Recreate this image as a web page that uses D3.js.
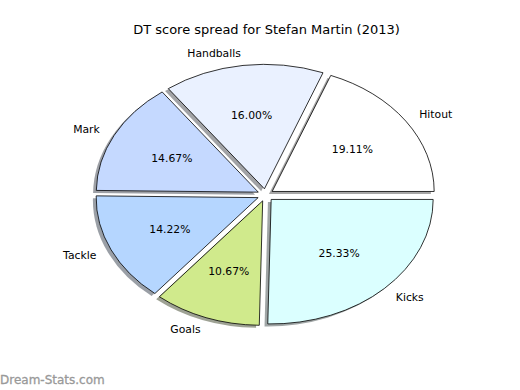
<!DOCTYPE html>
<html>
<head>
<meta charset="utf-8">
<script src="https://cdn.jsdelivr.net/npm/d3@7"></script>
<style>
  body { margin: 0; background: #fff; }
  svg { font-family: "DejaVu Sans", sans-serif; }
</style>
</head>
<body>
<svg id="chart" width="520" height="390"></svg>
<script>
var labels = ["Hitout", "Handballs", "Mark", "Tackle", "Goals", "Kicks"];
var points = [43, 36, 33, 32, 24, 57];
var colors = ["#ffffff", "#eaf1ff", "#c5d9ff", "#b5d6ff", "#d0ea8c", "#dbffff"];

var svg = d3.select("#chart"),
  cx = 265.5,
  cy = 195,
  rx = 162,
  ry = 124.5,
  explode = 0.05;

var total = d3.sum(points);

// matplotlib style: start at 3 o'clock, go counter-clockwise
var pie = d3.pie().sort(null).startAngle(Math.PI / 2).endAngle(Math.PI / 2 - 2 * Math.PI);
var arcs = pie(points);

var arc = d3.arc().innerRadius(0).outerRadius(rx);

var g = svg.append("g")
  .attr("transform", "translate(" + cx + "," + cy + ") scale(1," + (ry / rx) + ")");

function mid(d) { return (d.startAngle + d.endAngle) / 2; }

// shadows first
g.selectAll(".shadow")
  .data(arcs)
  .enter()
  .append("path")
  .attr("class", "shadow")
  .attr("transform", function(d) {
    var a = mid(d);
    return "translate(" + (Math.sin(a) * explode * rx - 0.02 * rx) + "," + (-Math.cos(a) * explode * rx + 0.02 * rx) + ")";
  })
  .attr("d", arc)
  .attr("fill", function(d, i) {
    var c = d3.rgb(colors[i]);
    return d3.rgb(c.r * 0.3, c.g * 0.3, c.b * 0.3).toString();
  })
  .attr("fill-opacity", 0.5)
  .attr("stroke", "none");

g.selectAll(".wedge")
  .data(arcs)
  .enter()
  .append("path")
  .attr("class", "wedge")
  .attr("transform", function(d) {
    var a = mid(d);
    return "translate(" + (Math.sin(a) * explode * rx) + "," + (-Math.cos(a) * explode * rx) + ")";
  })
  .attr("d", arc)
  .attr("fill", function(d, i) { return colors[i]; })
  .attr("stroke", "#000")
  .attr("stroke-width", 0.8)
  .attr("stroke-linejoin", "round")
  .attr("vector-effect", "non-scaling-stroke");

// outside labels
svg.selectAll(".lbl")
  .data(arcs)
  .enter()
  .append("text")
  .attr("class", "lbl")
  .attr("x", function(d) {
    var a = mid(d);
    return cx + Math.sin(a) * (1.1 + explode) * rx;
  })
  .attr("y", function(d) {
    var a = mid(d);
    return cy - Math.cos(a) * (1.1 + explode) * ry;
  })
  .attr("dy", "0.35em")
  .attr("text-anchor", function(d) { return Math.sin(mid(d)) > 0 ? "start" : "end"; })
  .attr("font-size", 10.8)
  .attr("fill", "#000")
  .text(function(d, i) { return labels[i]; });

// percentages
svg.selectAll(".pct")
  .data(arcs)
  .enter()
  .append("text")
  .attr("class", "pct")
  .attr("x", function(d) {
    var a = mid(d);
    return cx + Math.sin(a) * (0.6 + explode) * rx;
  })
  .attr("y", function(d) {
    var a = mid(d);
    return cy - Math.cos(a) * (0.6 + explode) * ry;
  })
  .attr("dy", "0.35em")
  .attr("text-anchor", "middle")
  .attr("font-size", 10.8)
  .attr("fill", "#000")
  .text(function(d) { return (d.value / total * 100).toFixed(2) + "%"; });

svg.append("text")
  .attr("x", 266.5)
  .attr("y", 34)
  .attr("text-anchor", "middle")
  .attr("font-size", 13)
  .attr("fill", "#000")
  .text("DT score spread for Stefan Martin (2013)");

svg.append("text")
  .attr("x", 0)
  .attr("y", 384)
  .attr("font-size", 12)
  .attr("fill", "#999")
  .attr("stroke", "#999")
  .attr("stroke-width", 0.3)
  .text("Dream-Stats.com");
</script>
</body>
</html>
